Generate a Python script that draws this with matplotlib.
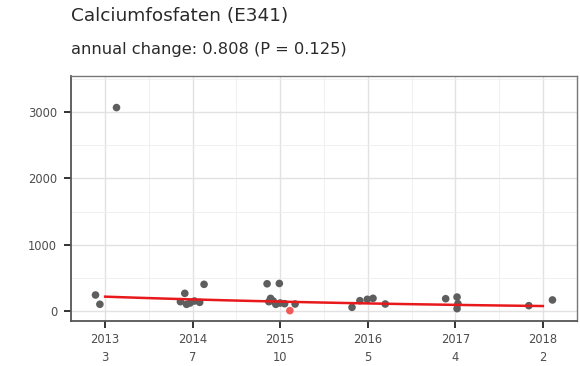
import numpy as np
import matplotlib
matplotlib.use("Agg")
import matplotlib.pyplot as plt
from matplotlib.ticker import MultipleLocator, FixedLocator

# Measurements: sampling date (decimal year) and concentration
years = [2012.89, 2012.94, 2013.13,
         2013.86, 2013.91, 2013.93, 2013.97, 2014.02, 2014.08, 2014.13,
         2014.85, 2014.87, 2014.89, 2014.92, 2014.95, 2014.99, 2015.00, 2015.05, 2015.17,
         2015.82, 2015.91, 2015.995, 2016.06, 2016.20,
         2016.89, 2017.02, 2017.03, 2017.02,
         2017.84, 2018.11]
values = [241, 101, 3068,
          140, 266, 100, 120, 150, 130, 402,
          410, 140, 190, 150, 100, 415, 120, 110, 105,
          55, 155, 176, 191, 105,
          185, 210, 110, 35,
          80, 166]

# Sample flagged separately (drawn in red)
flag_years = [2015.11]
flag_values = [5]

tick_years = [2013, 2014, 2015, 2016, 2017, 2018]
tick_counts = [3, 7, 10, 5, 4, 2]
y_ticks = [0, 1000, 2000, 3000]

trend_start = 216
annual_change = 0.808
p_value = 0.125

fig = plt.figure(figsize=(5.8, 3.66), dpi=100)
ax = fig.add_axes([0.1224, 0.123, 0.8724, 0.6693])

ax.set_xlim(2012.61, 2018.39)
ax.set_ylim(-151, 3544)

# grid
ax.xaxis.set_major_locator(FixedLocator(tick_years))
ax.xaxis.set_minor_locator(MultipleLocator(0.5))
ax.yaxis.set_major_locator(FixedLocator(y_ticks))
ax.yaxis.set_minor_locator(MultipleLocator(500))
ax.grid(which="major", color="#e2e2e2", linewidth=1.0)
ax.grid(which="minor", color="#eeeeee", linewidth=0.6)
ax.set_axisbelow(True)

ax.scatter(years, values, s=30, color="#5e5e5e", edgecolors="none", zorder=3)
ax.scatter(flag_years, flag_values, s=30, color="#f25a5a", edgecolors="none", zorder=3)

t = np.linspace(tick_years[0], tick_years[-1], 100)
ax.plot(t, trend_start * annual_change ** (t - tick_years[0]), color="#e8191c",
        linewidth=1.8, zorder=4)

ax.set_xticklabels([f"{y}\n{n}" for y, n in zip(tick_years, tick_counts)])
ax.tick_params(axis="both", which="major", labelsize=8.3, colors="#333333",
               length=5, width=1.4, labelcolor="#4d4d4d")
ax.tick_params(axis="y", which="major", pad=5)
ax.tick_params(axis="x", which="major", pad=4)
ax.tick_params(axis="both", which="minor", length=0)
for lbl in ax.get_xticklabels():
    lbl.set_linespacing(1.45)

for side in ["left", "bottom"]:
    ax.spines[side].set_color("#555555")
    ax.spines[side].set_linewidth(1.3)
for side in ["top", "right"]:
    ax.spines[side].set_color("#777777")
    ax.spines[side].set_linewidth(1.0)

fig.text(0.123, 0.955, "Calciumfosfaten (E341)", fontsize=13.3, color="#2a2a2a",
         ha="left", va="center")
fig.text(0.123, 0.866, f"annual change: {annual_change} (P = {p_value})", fontsize=11.7,
         color="#2a2a2a", ha="left", va="center")

fig.savefig("out.png", dpi=100)
